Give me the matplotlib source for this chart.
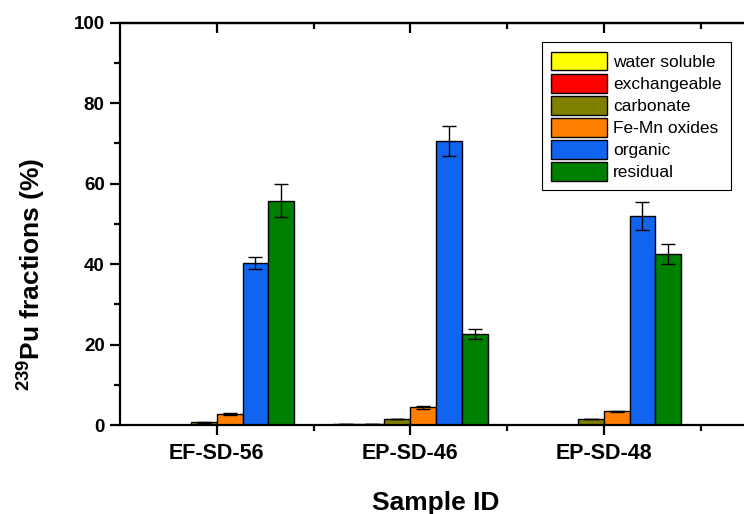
import numpy as np
import matplotlib
matplotlib.use("Agg")
import matplotlib.pyplot as plt
from matplotlib.ticker import MultipleLocator, FixedLocator

plt.rcParams['font.family'] = ['Liberation Sans', 'DejaVu Sans']
plt.rcParams['mathtext.fontset'] = 'custom'
plt.rcParams['mathtext.rm'] = 'Liberation Sans'
plt.rcParams['mathtext.bf'] = 'Liberation Sans:bold'

samples = ['EF-SD-56', 'EP-SD-46', 'EP-SD-48']
fractions = ['water soluble', 'exchangeable', 'carbonate', 'Fe-Mn oxides', 'organic', 'residual']
colors = ['#FFFF00', '#FF0000', '#808000', '#FF8000', '#1064F0', '#008000']

# percent per fraction, one value per sample
water_soluble = [0.1, 0.2, 0.1]
exchangeable = [0.1, 0.2, 0.1]
carbonate = [0.7, 1.5, 1.5]
fe_mn = [2.7, 4.4, 3.4]
organic = [40.2, 70.6, 51.9]
residual = [55.8, 22.6, 42.5]

err_water = [0.0, 0.0, 0.0]
err_exch = [0.0, 0.0, 0.0]
err_carb = [0.1, 0.1, 0.1]
err_femn = [0.2, 0.4, 0.2]
err_org = [1.45, 3.75, 3.5]
err_res = [4.2, 1.3, 2.6]

values = [water_soluble, exchangeable, carbonate, fe_mn, organic, residual]
errors = [err_water, err_exch, err_carb, err_femn, err_org, err_res]

fig = plt.figure(figsize=(7.44, 5.14), dpi=100)
ax = fig.add_axes([120 / 744, 1 - 425 / 514, 626 / 744, (425 - 22.7) / 514])

x = np.arange(1, len(samples) + 1)
width = 0.8 / len(fractions)
for i, (name, vals, errs, c) in enumerate(zip(fractions, values, errors, colors)):
    pos = x - 0.4 + width * (i + 0.5)
    ax.bar(pos, vals, width, color=c, edgecolor='black', linewidth=1.0, label=name,
           yerr=errs, error_kw=dict(ecolor='black', elinewidth=1.0, capsize=5, capthick=1.0))

ax.set_xlim(0.5, 3.735)
ax.set_ylim(0, 100)
ax.set_xticks(x)
ax.set_xticklabels(samples)
ax.xaxis.set_minor_locator(FixedLocator([1.5, 2.5, 3.5]))
ax.yaxis.set_major_locator(MultipleLocator(20))
ax.yaxis.set_minor_locator(MultipleLocator(10))

for s in ax.spines.values():
    s.set_linewidth(1.6)
ax.tick_params(axis='both', which='major', direction='out', length=7, width=1.6)
ax.tick_params(axis='both', which='minor', direction='out', length=4, width=1.6)
ax.tick_params(axis='x', which='major', labelsize=15.5, pad=6)
ax.tick_params(axis='y', which='major', labelsize=13.5, pad=4)
for lab in ax.get_xticklabels() + ax.get_yticklabels():
    lab.set_fontweight('bold')

# top axis: ticks pointing inward, no labels
top = ax.secondary_xaxis('top')
top.set_xticks(x)
top.xaxis.set_minor_locator(FixedLocator([1.5, 2.5, 3.5]))
top.tick_params(which='major', direction='in', length=7, width=1.6, labeltop=False)
top.tick_params(which='minor', direction='in', length=4, width=1.6)
top.spines['top'].set_linewidth(1.6)

ax.set_xlabel('Sample ID', fontsize=19, fontweight='bold')
ax.xaxis.set_label_coords(0.505, -0.165)
ax.set_ylabel(r'$\mathbf{^{239}}$Pu fractions (%)', fontsize=19, fontweight='bold')
ax.yaxis.set_label_coords(-0.115, 0.375)

leg = ax.legend(loc='upper right', bbox_to_anchor=(0.976, 0.952), fontsize=12.5,
                frameon=True, fancybox=False, edgecolor='black', framealpha=1,
                handlelength=3.2, handleheight=1.3, labelspacing=0.18,
                borderpad=0.55, handletextpad=0.35, borderaxespad=0)
leg.get_frame().set_linewidth(0.8)

fig.savefig('out.png', dpi=100)
